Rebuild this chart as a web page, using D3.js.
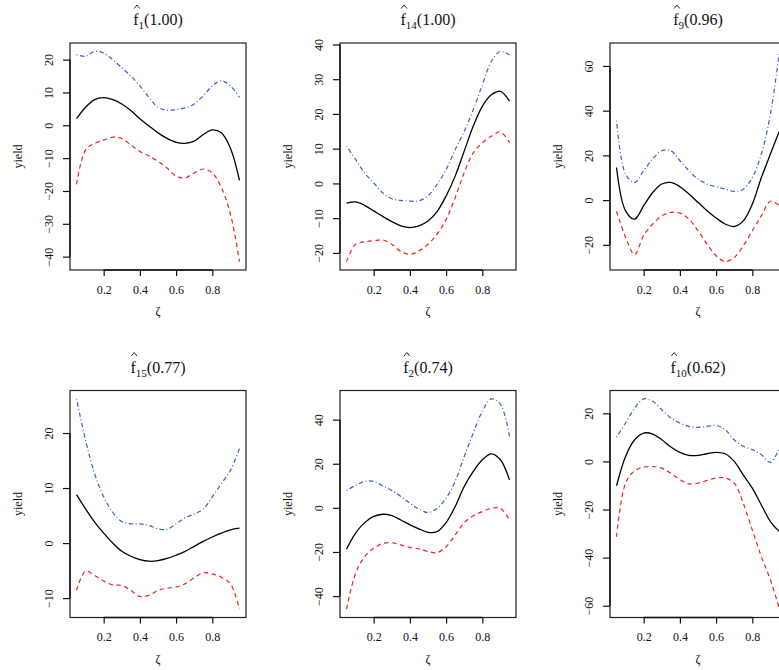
<!DOCTYPE html>
<html>
<head>
<meta charset="utf-8">
<script src="https://cdn.jsdelivr.net/npm/d3@7"></script>
<style>
  html, body { margin: 0; padding: 0; background: #fff; }
  svg { display: block; }
  text { font-family: "Liberation Serif", "Times New Roman", serif; fill: #111; }
</style>
</head>
<body>
<svg id="chart" width="779" height="670"></svg>
<script>
// ---------- data ----------
const zeta = [0.05,0.10,0.15,0.20,0.25,0.30,0.35,0.40,0.45,0.50,0.55,0.60,0.65,0.70,0.75,0.80,0.85,0.90,0.95];
const xTicks = [0.2, 0.4, 0.6, 0.8];

const panelIds    = ["1", "14", "9", "15", "2", "10"];
const panelScores = ["1.00", "1.00", "0.96", "0.77", "0.74", "0.62"];

const f1_est   = [2, 5.5, 7.8, 8.4, 7.8, 6.5, 4.5, 2, -0.2, -2.3, -4, -5.2, -5.5, -4.8, -2.8, -1.4, -2.3, -7, -16.8];
const f1_upper = [21.5, 21, 22.5, 22, 20, 17.5, 15, 12, 8.5, 5.5, 4.6, 4.8, 5.3, 6.5, 9, 12, 13.5, 12, 8.5];
const f1_lower = [-18, -7.5, -5.5, -4.5, -3.6, -4, -6, -8, -9.3, -11, -13, -15.5, -16, -14.5, -13.3, -14.5, -19, -27, -41.5];

const f14_est   = [-5.7, -5.3, -6.3, -7.9, -9.5, -11, -12.2, -12.7, -12.2, -10.8, -8.1, -3.6, 2.1, 9.3, 16.5, 22.2, 25.5, 26.5, 23.7];
const f14_upper = [10.7, 6.9, 3, 0.2, -2.7, -4.4, -4.9, -5.1, -5, -3.6, -0.3, 4, 9.7, 15, 21.2, 28.4, 35.1, 38, 37];
const f14_lower = [-22.5, -17.5, -16.8, -16.5, -16.3, -17.5, -19.6, -20.4, -19.4, -17.5, -14.6, -10.4, -4.1, 3.1, 8.8, 11.7, 13.6, 14.8, 11.7];

const f9_est   = [14.6, -4.8, -8.5, -2.5, 3.4, 7.2, 7.9, 6, 2.7, -1, -4.8, -8, -10.7, -11.8, -9.3, -1.8, 10.1, 20.6, 31];
const f9_upper = [35.5, 11.6, 7.9, 13.1, 18.4, 22.1, 22.1, 17.6, 13.1, 9.4, 7.2, 6, 4.9, 3.9, 4.9, 10.1, 20.6, 38.5, 66.5];
const f9_lower = [-5, -16.6, -24.3, -15.8, -10.7, -7, -5.5, -5.8, -8.5, -13.7, -19.7, -24.9, -27.5, -25.7, -20.4, -13.7, -7, -0.5, -2.5];

const f15_est   = [8.8, 6.2, 3.8, 1.8, 0, -1.5, -2.4, -3, -3.3, -3.2, -2.8, -2.2, -1.5, -0.6, 0.3, 1.1, 1.8, 2.4, 2.7];
const f15_upper = [26.2, 18.7, 12.6, 8.4, 5.6, 3.9, 3.5, 3.5, 3.2, 2.6, 2.5, 3.5, 4.6, 5.3, 6.2, 8.4, 10.8, 13.2, 17.2];
const f15_lower = [-8.6, -5.1, -5.9, -6.9, -7.6, -7.7, -8.6, -9.7, -9.5, -8.6, -8.2, -8, -7.4, -6.3, -5.4, -5.6, -6.2, -7.4, -12];

const f2_est   = [-18.8, -11.5, -6.7, -3.9, -2.9, -3.5, -5.5, -7.7, -9.5, -11.1, -10.8, -6.7, 0.6, 9.7, 16.5, 21.8, 24.5, 21.8, 12.7];
const f2_upper = [7.9, 10.2, 12, 12, 10, 7.9, 5.2, 2.1, -0.6, -2.1, -0.2, 4.4, 12, 23.3, 33.9, 43.8, 49.4, 47, 32.4];
const f2_lower = [-45.9, -29.7, -22.1, -18.3, -16.1, -15.8, -16.8, -17.9, -18.6, -19.8, -20.3, -17.6, -12.3, -6.7, -3.6, -1.7, -0.2, -0.2, -5.5];

const f10_est   = [-10.1, 2.1, 9, 11.8, 11.4, 9, 6, 3.8, 2.5, 2.5, 3.2, 3.8, 3.2, 0, -5.6, -11.1, -18.1, -25, -29.2];
const f10_upper = [10.1, 16, 22.2, 26, 25, 21.5, 18.1, 16, 14.6, 14.2, 14.6, 15, 13.2, 9, 6.3, 4.9, 2.8, -0.4, 5.6];
const f10_lower = [-31.3, -9, -3.9, -2.4, -2.1, -2.8, -4.9, -7.6, -9.3, -9, -7.9, -6.9, -6.9, -9, -17.4, -28.5, -39.6, -49.3, -61.4];

const yTicks1  = [-40, -30, -20, -10, 0, 10, 20];
const yTicks14 = [-20, -10, 0, 10, 20, 30, 40];
const yTicks9  = [-20, 0, 20, 40, 60];
const yTicks15 = [-10, 0, 10, 20];
const yTicks2  = [-40, -20, 0, 20, 40];
const yTicks10 = [-60, -40, -20, 0, 20];

const xLabel = "ζ";
const yLabel = "yield";

// ---------- assemble ----------
const panels = [
  { est: f1_est,  upper: f1_upper,  lower: f1_lower,  ticks: yTicks1 },
  { est: f14_est, upper: f14_upper, lower: f14_lower, ticks: yTicks14 },
  { est: f9_est,  upper: f9_upper,  lower: f9_lower,  ticks: yTicks9 },
  { est: f15_est, upper: f15_upper, lower: f15_lower, ticks: yTicks15 },
  { est: f2_est,  upper: f2_upper,  lower: f2_lower,  ticks: yTicks2 },
  { est: f10_est, upper: f10_upper, lower: f10_lower, ticks: yTicks10 }
].map((p, i) => Object.assign(p, { id: panelIds[i], score: panelScores[i] }));

const svg = d3.select("#chart");
const colLeft = [70, 340, 610];
const rowTop = [43, 390.5];
const boxW = 176, boxH = 227;

function padded(ext) {
  const r = ext[1] - ext[0];
  return [ext[0] - 0.04 * r, ext[1] + 0.04 * r];
}

panels.forEach((p, i) => {
  const left = colLeft[i % 3], top = rowTop[Math.floor(i / 3)];
  const g = svg.append("g").attr("transform", `translate(${left},${top})`);

  const x = d3.scaleLinear().domain(padded(d3.extent(zeta))).range([0, boxW]);
  const allY = p.est.concat(p.upper, p.lower);
  const y = d3.scaleLinear().domain(padded(d3.extent(allY))).range([boxH, 0]);

  const line = d3.line()
    .x((d, k) => x(zeta[k]))
    .y(d => y(d))
    .curve(d3.curveCatmullRom.alpha(0.5));

  g.append("path").datum(p.upper).attr("d", line)
    .attr("fill", "none").attr("stroke", "#3d5fc4").attr("stroke-width", 1.2)
    .attr("stroke-dasharray", "1,2.5,4.5,2.5");
  g.append("path").datum(p.lower).attr("d", line)
    .attr("fill", "none").attr("stroke", "#ee2222").attr("stroke-width", 1.2)
    .attr("stroke-dasharray", "4.5,3.5");
  g.append("path").datum(p.est).attr("d", line)
    .attr("fill", "none").attr("stroke", "#000").attr("stroke-width", 1.3);

  // box
  g.append("rect").attr("x", 0).attr("y", 0).attr("width", boxW).attr("height", boxH)
    .attr("fill", "none").attr("stroke", "#222").attr("stroke-width", 1.2);

  // x axis
  const xa = g.append("g").attr("transform", `translate(0,${boxH})`)
    .call(d3.axisBottom(x).tickValues(xTicks).tickSize(6).tickPadding(10).tickFormat(d3.format(".1f")));
  xa.select(".domain").attr("d", `M${x(xTicks[0])},0H${x(xTicks[xTicks.length - 1])}`)
    .attr("stroke", "#111").attr("stroke-width", 1.4);
  xa.selectAll(".tick line").attr("stroke", "#111").attr("stroke-width", 1.2);
  xa.selectAll(".tick text").attr("font-family", "Liberation Serif, serif")
    .attr("font-size", 12).attr("fill", "#111").attr("dy", null).attr("y", 23.5);

  // y axis
  const ya = g.append("g").call(d3.axisLeft(y).tickValues(p.ticks).tickSize(7).tickFormat(d => d < 0 ? "\u2212" + Math.abs(d) : d));
  ya.select(".domain").attr("d", `M0,${y(p.ticks[0])}V${y(p.ticks[p.ticks.length - 1])}`)
    .attr("stroke", "#111").attr("stroke-width", 1.4);
  ya.selectAll(".tick line").attr("stroke", "#111").attr("stroke-width", 1.2);
  ya.selectAll(".tick text")
    .attr("font-family", "Liberation Serif, serif").attr("font-size", 12).attr("fill", "#111")
    .attr("x", null).attr("dy", null)
    .attr("text-anchor", "middle")
    .attr("transform", "translate(-17,0) rotate(-90)");

  // axis labels
  g.append("text").attr("x", boxW / 2).attr("y", boxH + 45).attr("text-anchor", "middle")
    .attr("font-size", 12).text(xLabel);
  g.append("text").attr("transform", `translate(-48.5,${boxH / 2}) rotate(-90)`)
    .attr("text-anchor", "middle").attr("font-size", 12).text(yLabel);

  // title with hat accent (drawn as a small stroke)
  const t = g.append("text").attr("x", boxW / 2).attr("y", -18).attr("text-anchor", "middle")
    .attr("font-size", 16);
  t.append("tspan").text("f");
  t.append("tspan").attr("font-size", 11).attr("dy", 4).text(p.id);
  t.append("tspan").attr("dy", -4).text("(" + p.score + ")");
  const node = t.node();
  const fx0 = node.getStartPositionOfChar(0).x, fx1 = node.getEndPositionOfChar(0).x;
  const hc = (fx0 + fx1) / 2 + 1;
  g.append("path")
    .attr("d", `M${hc - 2.8},${-34.5}L${hc},${-38}L${hc + 2.8},${-34.5}`)
    .attr("fill", "none").attr("stroke", "#111").attr("stroke-width", 0.9);
});
</script>
</body>
</html>
